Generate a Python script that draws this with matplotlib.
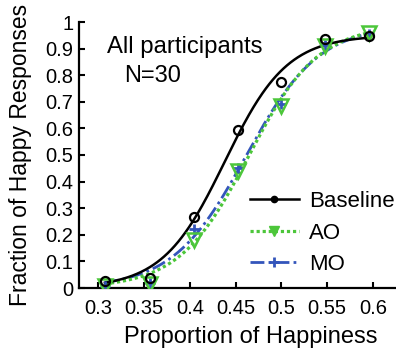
import numpy as np
import matplotlib
matplotlib.use("Agg")
import matplotlib.pyplot as plt
from matplotlib.lines import Line2D

plt.rcParams['font.family'] = ['Liberation Sans', 'DejaVu Sans']

# morph levels (proportion of happiness) and mean fraction of "happy" answers
levels = [0.307, 0.356, 0.404, 0.452, 0.500, 0.548, 0.596]
baseline = [0.026, 0.036, 0.268, 0.595, 0.775, 0.935, 0.948]
ao = [0.008, 0.015, 0.180, 0.440, 0.685, 0.908, 0.957]
mo = [0.006, 0.020, 0.222, 0.450, 0.690, 0.912, 0.955]

xticks = [0.3, 0.35, 0.4, 0.45, 0.5, 0.55, 0.6]
xticklabels = ['0.3', '0.35', '0.4', '0.45', '0.5', '0.55', '0.6']
yticks = [0, 0.1, 0.2, 0.3, 0.4, 0.5, 0.6, 0.7, 0.8, 0.9, 1]
yticklabels = ['0', '0.1', '0.2', '0.3', '0.4', '0.5', '0.6', '0.7', '0.8', '0.9', '1']

GREEN = '#4cc63a'
BLUE = '#3355bb'
DOTTED = (0, (1, 0.9))
DASHDOT = (0, (5, 1.5, 1, 1.5))


def fit_logistic(x, y):
    # least-squares logistic with guess rate and lapse rate, brute-force grid
    x = np.asarray(x)
    y = np.asarray(y)
    a = np.linspace(0.38, 0.52, 141)[:, None, None]
    b = np.linspace(0.01, 0.08, 71)[None, :, None]
    best = (np.inf, None)
    for gam in np.linspace(0, 0.04, 9):
        for lam in np.linspace(0, 0.08, 17):
            p = gam + (1 - gam - lam) / (1 + np.exp(-(x - a) / b))
            err = ((p - y) ** 2).sum(axis=-1)
            i = np.unravel_index(err.argmin(), err.shape)
            if err[i] < best[0]:
                best = (err[i], (a[i[0], 0, 0], b[0, i[1], 0], gam, lam))
    return best[1]


def logistic(x, a, b, gam, lam):
    return gam + (1 - gam - lam) / (1 + np.exp(-(x - a) / b))


fig = plt.figure(figsize=(3.96, 3.52), dpi=100)
ax = fig.add_axes([79 / 396, 64 / 352, 343 / 396, 266 / 352])

xs = np.linspace(levels[0], levels[-1], 300)

ax.plot(xs, logistic(xs, *fit_logistic(levels, mo)), color=BLUE, lw=2,
        linestyle=DASHDOT, zorder=2)
ax.plot(xs, logistic(xs, *fit_logistic(levels, ao)), color=GREEN, lw=2.3,
        linestyle=DOTTED, zorder=3)
ax.plot(xs, logistic(xs, *fit_logistic(levels, baseline)), color='black', lw=1.8, zorder=4)

ax.plot(levels, mo, linestyle='none', marker='+', ms=7.5, mew=2, color=BLUE, zorder=5)
ax.plot(levels, ao, linestyle='none', marker='v', ms=9.5, mew=1.8, mfc='none',
        mec=GREEN, zorder=6)
ax.plot(levels, baseline, linestyle='none', marker='o', ms=6.5, mew=1.6, mfc='none',
        mec='black', zorder=7)

ax.set_xlim(0.2787, 0.6536)
ax.set_ylim(0, 1)
ax.set_xticks(xticks)
ax.set_xticklabels(xticklabels)
ax.set_yticks(yticks)
ax.set_yticklabels(yticklabels)
ax.tick_params(direction='in', length=4, width=1.5, labelsize=14.5)
ax.tick_params(axis='x', pad=8)
ax.tick_params(axis='y', pad=4)

for side in ['top', 'right']:
    ax.spines[side].set_visible(False)
for side in ['left', 'bottom']:
    ax.spines[side].set_linewidth(1.6)

ax.set_xlabel('Proportion of Happiness', fontsize=17, labelpad=6)
ax.set_ylabel('Fraction of Happy Responses', fontsize=16.5)
ax.yaxis.set_label_coords(-0.137, 0.5)

ax.text(0.3076, 0.8846, 'All participants', transform=ax.transAxes, fontsize=17.2,
        ha='center', va='baseline')
ax.text(0.132, 0.7756, 'N=30', transform=ax.transAxes, fontsize=17,
        ha='left', va='baseline')

handles = [
    Line2D([], [], color='black', lw=1.8, marker='o', ms=4.5),
    Line2D([], [], color=GREEN, lw=2.3, linestyle=DOTTED, marker='v', ms=7),
    Line2D([], [], color=BLUE, lw=2, linestyle=DASHDOT, marker='+', ms=7, mew=2),
]
ax.legend(handles, ['Baseline', 'AO', 'MO'], loc='upper left',
          bbox_to_anchor=(0.4985, 0.365), frameon=False, fontsize=16,
          handlelength=2.2, handletextpad=0.45, labelspacing=0.48,
          borderpad=0, borderaxespad=0)

fig.savefig('out.png', dpi=100)
